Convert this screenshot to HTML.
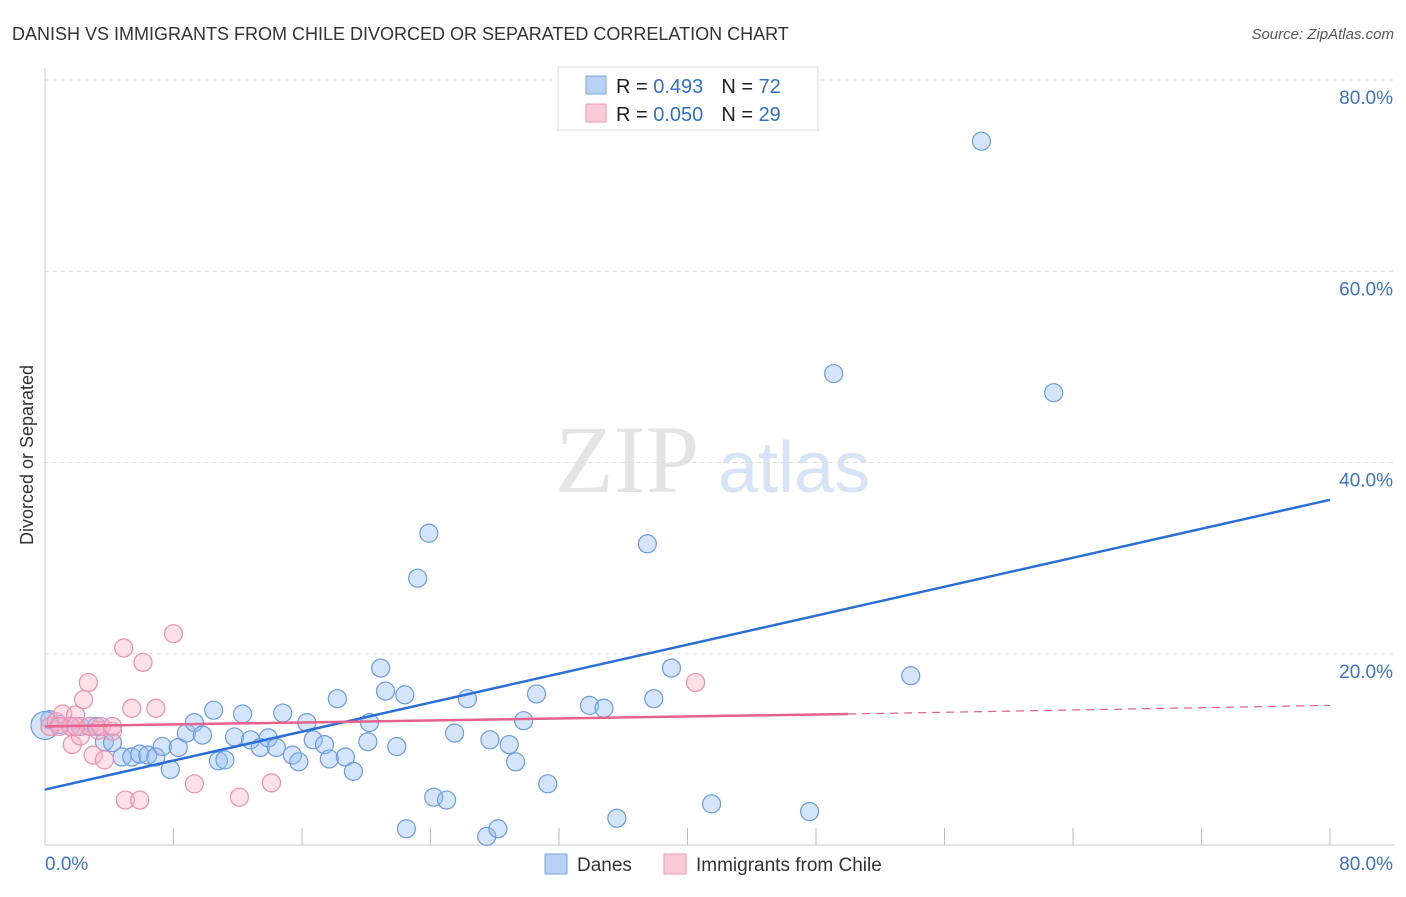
<!DOCTYPE html>
<html><head><meta charset="utf-8"><style>
body{margin:0;background:#fff;font-family:"Liberation Sans",sans-serif}
</style></head><body>
<svg width="1406" height="892" xmlns="http://www.w3.org/2000/svg" id="svg">
<text x="12" y="40" font-size="18" fill="#333">DANISH VS IMMIGRANTS FROM CHILE DIVORCED OR SEPARATED CORRELATION CHART</text>
<text x="1394" y="39" font-size="15" fill="#555" font-style="italic" text-anchor="end">Source: ZipAtlas.com</text>
<text x="555" y="492" font-size="96" fill="#e4e4e4" font-family="Liberation Serif">ZIP</text>
<text x="718" y="492" font-size="72" fill="#d6e4f5">atlas</text>
<text transform="translate(33,455) rotate(-90)" font-size="18" fill="#333" text-anchor="middle">Divorced or Separated</text>
<g id="grid"></g><g id="marks"></g>
<g>
<rect x="558" y="67" width="260" height="63" fill="#fff" stroke="#ddd"/>
<rect x="586" y="76" width="20" height="18" fill="#b8d2f5" stroke="#7aa5e3"/>
<rect x="586" y="104" width="20" height="18" fill="#fbc9d8" stroke="#ee9ab5"/>
<text x="616" y="93" font-size="20" fill="#222">R = <tspan fill="#2f6fd1">0.493</tspan><tspan dx="18">N = </tspan><tspan fill="#2f6fd1">72</tspan></text>
<text x="616" y="121" font-size="20" fill="#222">R = <tspan fill="#2f6fd1">0.050</tspan><tspan dx="18">N = </tspan><tspan fill="#2f6fd1">29</tspan></text>
</g>
<g>
<rect x="545" y="854" width="22" height="20" fill="#b8d2f5" stroke="#7aa5e3"/>
<text x="577" y="871" font-size="19" fill="#333">Danes</text>
<rect x="664" y="854" width="22" height="20" fill="#fbc9d8" stroke="#ee9ab5"/>
<text x="696" y="871" font-size="19" fill="#333">Immigrants from Chile</text>
</g>
</svg>
<script>
const yTicks=[20,40,60,80];
const yTickLabels=["20.0%","40.0%","60.0%","80.0%"];
const xTickLabels=["0.0%","80.0%"];
const danesX=[0.3,0.9,1.6,2.2,2.8,3.2,3.7,4.2,4.8,5.4,5.9,6.4,6.9,7.3,7.8,8.3,8.8,9.3,9.8,10.5,10.8,11.2,11.8,12.3,12.8,13.4,13.9,14.4,14.8,15.4,15.8,16.3,16.7,17.4,17.7,18.2,18.7,19.2,20.1,20.2,20.9,21.2,21.9,22.4,22.5,23.2,23.9,24.2,25.0,25.5,26.3,27.5,27.7,28.2,28.9,29.3,29.8,30.6,31.3,33.9,34.8,35.6,37.5,37.9,39.0,41.5,47.6,49.1,53.9,58.3,62.8,0.0];
const danesY=[13.1,12.6,12.4,12.4,12.4,12.4,10.8,10.7,9.2,9.2,9.5,9.4,9.2,10.3,7.9,10.2,11.7,12.8,11.5,14.1,8.8,8.9,11.3,13.7,11.0,10.2,11.2,10.2,13.8,9.4,8.7,12.8,11.0,10.5,9.0,15.3,9.2,7.7,10.8,12.8,18.5,16.1,10.3,15.7,1.7,27.9,32.6,5.0,4.7,11.7,15.3,0.9,11.0,1.7,10.5,8.7,13.0,15.8,6.4,14.6,14.3,2.8,31.5,15.3,18.5,4.3,3.5,49.3,17.7,73.6,47.3,12.5];
const chileX=[0.3,0.7,1.1,1.7,1.9,2.2,2.4,2.7,3.0,3.3,3.7,4.2,4.9,5.0,5.4,5.9,6.1,6.9,8.0,9.3,12.1,14.1,40.5,2.8,1.6,0.9,3.5,1.9,4.2];
const chileY=[12.4,12.9,13.7,10.5,13.6,11.4,15.2,17.0,9.4,12.0,8.9,11.9,20.6,4.7,14.3,4.7,19.1,14.3,22.1,6.4,5.0,6.5,17.0,12.4,12.4,12.4,12.4,12.4,12.4];
const danesTrend=[5.8,36.1];
const chileTrend=[12.4,13.7,14.6];
const X=v=>45+v*(1285/80), Y=v=>845-v*(765/80);
const NS="http://www.w3.org/2000/svg";
function mk(t,a,p){const e=document.createElementNS(NS,t);for(const k in a)e.setAttribute(k,a[k]);p.appendChild(e);return e;}
const g=document.getElementById('grid'),m=document.getElementById('marks');
yTicks.forEach((t,i)=>{
 const l=mk('line',{x1:45,x2:1395,y1:Y(t),y2:Y(t),stroke:'#ddd','stroke-dasharray':'4,4'},g);
 
 const tx=mk('text',{x:1393,y:Y(t)+24,'font-size':19,fill:'#3a72d2','text-anchor':'end'},g);tx.textContent=yTickLabels[i];
 
});
mk('line',{x1:45,x2:45,y1:68,y2:845,stroke:'#ccc'},g);
mk('line',{x1:45,x2:1395,y1:845,y2:845,stroke:'#ccc'},g);
for(let i=1;i<=10;i++){const t=mk('line',{x1:X(i*8),x2:X(i*8),y1:828,y2:845,stroke:'#bbb'},g);
 }
const xl0=mk('text',{x:45,y:870,'font-size':19,fill:'#3a72d2'},g);xl0.textContent=xTickLabels[0];

const xl1=mk('text',{x:1393,y:870,'font-size':19,fill:'#3a72d2','text-anchor':'end'},g);xl1.textContent=xTickLabels[1];

danesX.forEach((x,i)=>{const c=mk('circle',{cx:X(x),cy:Y(danesY[i]),r:i==danesX.length-1?14:9,fill:'rgba(150,190,240,0.4)',stroke:'#6a9be0','stroke-width':1.2},m);
 });
chileX.forEach((x,i)=>{const c=mk('circle',{cx:X(x),cy:Y(chileY[i]),r:9,fill:'rgba(248,180,200,0.4)',stroke:'#ec8fae','stroke-width':1.2},m);
 });
const bl=mk('line',{x1:X(0),y1:Y(danesTrend[0]),x2:X(80),y2:Y(danesTrend[1]),stroke:'#2a6fd6','stroke-width':2.5},m);

const pl=mk('line',{x1:X(0),y1:Y(chileTrend[0]),x2:X(50),y2:Y(chileTrend[1]),stroke:'#e4628e','stroke-width':2.5},m);

const pd=mk('line',{x1:X(50),y1:Y(chileTrend[1]),x2:X(80),y2:Y(chileTrend[2]),stroke:'#e4628e','stroke-width':1.2,'stroke-dasharray':'8,6'},m);

</script>
</body></html>
